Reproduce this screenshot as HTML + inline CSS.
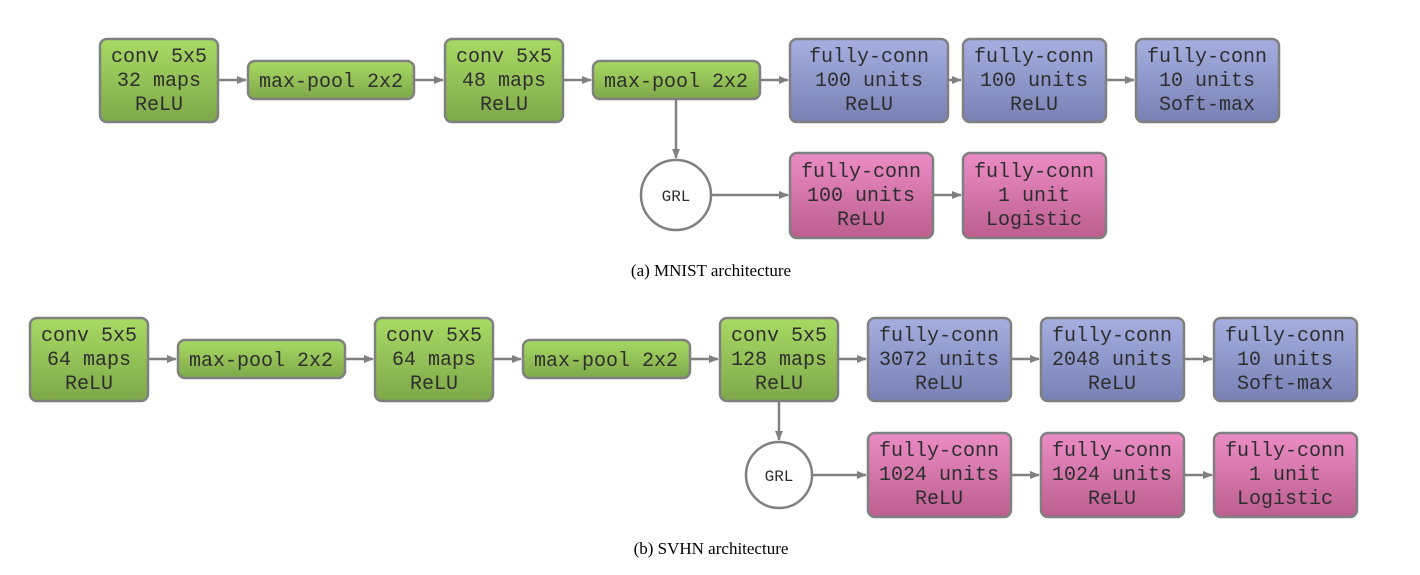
<!DOCTYPE html>
<html><head><style>body{margin:0;background:#fff}svg{display:block}</style></head><body>
<svg width="1420" height="575" viewBox="0 0 1420 575" xmlns="http://www.w3.org/2000/svg">
<defs>
<linearGradient id="g" x1="0" y1="0" x2="0" y2="1"><stop offset="0" stop-color="#a8da64"/><stop offset="1" stop-color="#7ea84a"/></linearGradient>
<linearGradient id="b" x1="0" y1="0" x2="0" y2="1"><stop offset="0" stop-color="#a6afe0"/><stop offset="1" stop-color="#7880b4"/></linearGradient>
<linearGradient id="p" x1="0" y1="0" x2="0" y2="1"><stop offset="0" stop-color="#ec8cc6"/><stop offset="1" stop-color="#bc5e8e"/></linearGradient>
<marker id="a" markerWidth="10" markerHeight="8" refX="9" refY="4" orient="auto" markerUnits="userSpaceOnUse"><path d="M0,0 L10,4 L0,8z" fill="#808080"/></marker>
</defs>
<g stroke="#808080" stroke-width="2.5">
<rect x="100" y="39" width="118" height="83" rx="7" fill="url(#g)"/>
<rect x="248" y="61" width="166" height="38" rx="7" fill="url(#g)"/>
<rect x="445" y="39" width="118" height="83" rx="7" fill="url(#g)"/>
<rect x="593" y="61" width="167" height="38" rx="7" fill="url(#g)"/>
<rect x="790" y="39" width="158" height="83" rx="7" fill="url(#b)"/>
<rect x="963" y="39" width="143" height="83" rx="7" fill="url(#b)"/>
<rect x="1136" y="39" width="143" height="83" rx="7" fill="url(#b)"/>
<circle cx="676" cy="195" r="35" fill="#fff"/>
<rect x="790" y="153" width="143" height="85" rx="7" fill="url(#p)"/>
<rect x="963" y="153" width="143" height="85" rx="7" fill="url(#p)"/>
<rect x="30" y="318" width="118" height="83" rx="7" fill="url(#g)"/>
<rect x="178" y="340" width="167" height="38" rx="7" fill="url(#g)"/>
<rect x="375" y="318" width="118" height="83" rx="7" fill="url(#g)"/>
<rect x="523" y="340" width="167" height="38" rx="7" fill="url(#g)"/>
<rect x="720" y="318" width="118" height="83" rx="7" fill="url(#g)"/>
<rect x="868" y="318" width="143" height="83" rx="7" fill="url(#b)"/>
<rect x="1041" y="318" width="143" height="83" rx="7" fill="url(#b)"/>
<rect x="1214" y="318" width="143" height="83" rx="7" fill="url(#b)"/>
<circle cx="779" cy="475" r="33" fill="#fff"/>
<rect x="868" y="433" width="143" height="84" rx="7" fill="url(#p)"/>
<rect x="1041" y="433" width="143" height="84" rx="7" fill="url(#p)"/>
<rect x="1214" y="433" width="143" height="84" rx="7" fill="url(#p)"/>
</g>
<g stroke="#808080" stroke-width="2.5" marker-end="url(#a)">
<line x1="219" y1="80" x2="246" y2="80"/>
<line x1="415" y1="80" x2="443" y2="80"/>
<line x1="564" y1="80" x2="591" y2="80"/>
<line x1="761" y1="80" x2="788" y2="80"/>
<line x1="949" y1="80" x2="961" y2="80"/>
<line x1="1107" y1="80" x2="1134" y2="80"/>
<line x1="676" y1="100" x2="676" y2="158"/>
<line x1="712" y1="195" x2="788" y2="195"/>
<line x1="934" y1="195" x2="961" y2="195"/>
<line x1="149" y1="359" x2="176" y2="359"/>
<line x1="346" y1="359" x2="373" y2="359"/>
<line x1="494" y1="359" x2="521" y2="359"/>
<line x1="691" y1="359" x2="718" y2="359"/>
<line x1="839" y1="359" x2="866" y2="359"/>
<line x1="1012" y1="359" x2="1039" y2="359"/>
<line x1="1185" y1="359" x2="1212" y2="359"/>
<line x1="779" y1="402" x2="779" y2="440"/>
<line x1="813" y1="475" x2="866" y2="475"/>
<line x1="1012" y1="475" x2="1039" y2="475"/>
<line x1="1185" y1="475" x2="1212" y2="475"/>
</g>
<g font-family="Liberation Mono, monospace" font-size="20" fill="#2e2e2e" text-anchor="middle">
<text x="159" y="62">conv 5x5</text><text x="159" y="86">32 maps</text><text x="159" y="110">ReLU</text>
<text x="331" y="87">max-pool 2x2</text>
<text x="504" y="62">conv 5x5</text><text x="504" y="86">48 maps</text><text x="504" y="110">ReLU</text>
<text x="676" y="87">max-pool 2x2</text>
<text x="869" y="62">fully-conn</text><text x="869" y="86">100 units</text><text x="869" y="110">ReLU</text>
<text x="1034" y="62">fully-conn</text><text x="1034" y="86">100 units</text><text x="1034" y="110">ReLU</text>
<text x="1207" y="62">fully-conn</text><text x="1207" y="86">10 units</text><text x="1207" y="110">Soft-max</text>
<text x="676" y="201" font-size="16">GRL</text>
<text x="861" y="177">fully-conn</text><text x="861" y="201">100 units</text><text x="861" y="225">ReLU</text>
<text x="1034" y="177">fully-conn</text><text x="1034" y="201">1 unit</text><text x="1034" y="225">Logistic</text>
<text x="89" y="341">conv 5x5</text><text x="89" y="365">64 maps</text><text x="89" y="389">ReLU</text>
<text x="261" y="366">max-pool 2x2</text>
<text x="434" y="341">conv 5x5</text><text x="434" y="365">64 maps</text><text x="434" y="389">ReLU</text>
<text x="606" y="366">max-pool 2x2</text>
<text x="779" y="341">conv 5x5</text><text x="779" y="365">128 maps</text><text x="779" y="389">ReLU</text>
<text x="939" y="341">fully-conn</text><text x="939" y="365">3072 units</text><text x="939" y="389">ReLU</text>
<text x="1112" y="341">fully-conn</text><text x="1112" y="365">2048 units</text><text x="1112" y="389">ReLU</text>
<text x="1285" y="341">fully-conn</text><text x="1285" y="365">10 units</text><text x="1285" y="389">Soft-max</text>
<text x="779" y="481" font-size="16">GRL</text>
<text x="939" y="456">fully-conn</text><text x="939" y="480">1024 units</text><text x="939" y="504">ReLU</text>
<text x="1112" y="456">fully-conn</text><text x="1112" y="480">1024 units</text><text x="1112" y="504">ReLU</text>
<text x="1285" y="456">fully-conn</text><text x="1285" y="480">1 unit</text><text x="1285" y="504">Logistic</text>
</g>
<g font-family="Liberation Serif, serif" font-size="17" fill="#000" text-anchor="middle">
<text x="711" y="276">(a)  MNIST architecture</text>
<text x="711" y="554">(b)  SVHN architecture</text>
</g>
</svg>
</body></html>
